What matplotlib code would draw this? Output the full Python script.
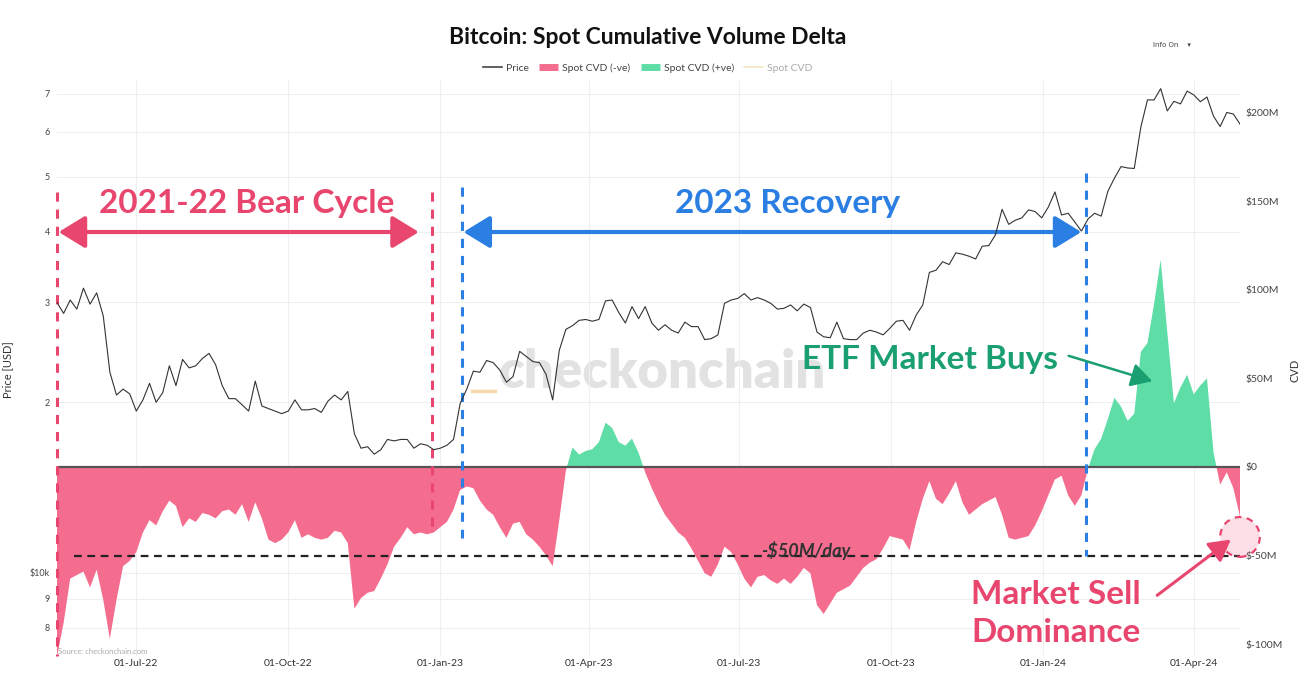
import matplotlib
matplotlib.use('Agg')
import matplotlib.pyplot as plt
import matplotlib.dates as mdates
import matplotlib.ticker as mticker
from matplotlib.lines import Line2D
from matplotlib.patches import Ellipse, FancyArrowPatch
import numpy as np
import pandas as pd

W, H = 1309, 682

# ---- data (one value every 4 days) ----
start_date = '2022-05-14'
step = '4D'

# BTC price, thousands of USD
price_k = [30.0, 28.7, 30.3, 29.2, 31.8, 29.8, 31.2, 28.4, 22.6, 20.6,
           21.1, 20.7, 19.3, 20.2, 21.6, 20.0, 20.8, 23.2, 21.4, 23.8,
           23.0, 23.2, 23.9, 24.4, 23.3, 21.4, 20.3, 20.3, 19.8, 19.3,
           21.8, 19.7, 19.5, 19.3, 19.1, 19.3, 20.2, 19.4, 19.4, 19.5,
           19.2, 20.1, 20.6, 20.2, 20.9, 17.6, 16.6, 16.7, 16.2, 16.5,
           17.2, 17.1, 17.2, 17.2, 16.6, 16.9, 16.8, 16.5, 16.6, 16.8,
           17.2, 19.9, 21.1, 22.7, 22.6, 23.7, 23.5, 22.8, 21.7, 22.2,
           24.6, 24.1, 23.6, 23.5, 22.4, 20.2, 24.7, 26.9, 27.3, 27.9,
           28.0, 27.8, 28.0, 30.2, 30.3, 28.8, 27.6, 29.5, 28.1, 29.5,
           27.6, 26.8, 27.4, 26.8, 26.5, 27.7, 27.2, 27.2, 25.8, 25.9,
           26.3, 29.9, 30.3, 30.5, 31.1, 30.3, 30.6, 30.3, 29.9, 29.2,
           29.3, 29.7, 29.0, 29.8, 29.4, 26.6, 26.1, 26.0, 27.7, 25.9,
           25.8, 25.8, 26.5, 26.8, 26.6, 26.3, 27.0, 27.8, 27.9, 26.8,
           28.5, 29.7, 33.9, 34.2, 35.4, 35.0, 36.7, 36.5, 36.2, 35.8,
           37.7, 37.8, 39.5, 43.8, 41.2, 41.9, 42.3, 43.7, 43.4, 42.3,
           44.2, 47.0, 42.8, 43.1, 41.6, 40.1, 42.1, 43.1, 42.6, 47.1,
           49.7, 52.1, 51.8, 51.7, 61.2, 68.3, 68.3, 71.5, 65.3, 67.9,
           67.2, 70.8, 69.7, 67.8, 69.1, 63.9, 61.3, 64.9, 64.5, 61.9]

# spot cumulative volume delta, millions of USD
cvd_m = [-107, -88, -63, -61, -59, -68, -58, -75, -97, -75,
         -56, -53, -48, -37, -30, -33, -25, -19, -22, -34,
         -29, -31, -26, -27, -29, -25, -24, -27, -21, -31,
         -20, -29, -41, -43, -41, -37, -30, -40, -38, -40,
         -41, -40, -36, -37, -43, -80, -74, -71, -70, -63,
         -55, -45, -40, -34, -38, -37, -38, -37, -34, -31,
         -24, -13, -11, -12, -19, -24, -27, -34, -40, -32,
         -31, -38, -41, -45, -50, -56, -30, -2, 11, 7,
         9, 10, 14, 25, 22, 14, 12, 16, 8, -3,
         -12, -20, -27, -32, -37, -40, -46, -53, -60, -62,
         -55, -45, -48, -55, -63, -68, -62, -61, -64, -66,
         -63, -66, -62, -57, -60, -78, -83, -77, -71, -69,
         -67, -62, -57, -54, -52, -46, -39, -40, -41, -47,
         -31, -18, -8, -18, -21, -15, -8, -20, -27, -24,
         -21, -19, -17, -27, -40, -41, -40, -39, -33, -25,
         -16, -7, -5, -16, -22, -16, -1, 10, 16, 27,
         39, 34, 26, 30, 65, 70, 92, 117, 76, 36,
         45, 52, 41, 46, 50, 8, -10, -3, -12, -28]

date_ticks = ['2022-07-01', '2022-10-01', '2023-01-01', '2023-04-01',
              '2023-07-01', '2023-10-01', '2024-01-01', '2024-04-01']
price_ticks = [8000, 9000, 10000, 20000, 30000, 40000, 50000, 60000, 70000]
price_tick_labels = ['8', '9', '$10k', '2', '3', '4', '5', '6', '7']
cvd_ticks = [-100, -50, 0, 50, 100, 150, 200]
cvd_tick_labels = ['$-100M', '$-50M', '$0', '$50M', '$100M', '$150M', '$200M']

dates = pd.date_range(start_date, periods=len(price_k), freq=step)
price = np.array(price_k) * 1000
cvd = np.array(cvd_m, dtype=float)

PINK = '#f46c8e'
PINK_TXT = '#e8456f'
GREEN = '#5fdda7'
GREEN_TXT = '#1a9f70'
BLUE = '#2b7fe3'

plt.rcParams['font.family'] = ['Lato', 'DejaVu Sans']

fig = plt.figure(figsize=(W / 100, H / 100), dpi=100)
fig.patch.set_facecolor('white')


def fx(x):
    return x / W


def fy(y):
    return 1 - y / H


rect = [fx(57), fy(656), (1240 - 57) / W, (656 - 80) / H]
PRICE_LIM = (7138, 74050)
CVD_LIM = (-106.7, 218.4)
date_tick_nums = mdates.date2num(pd.to_datetime(date_ticks))

# background axes, only for the faint grid
axg = fig.add_axes(rect, zorder=0)
axg.patch.set_visible(False)
axg.set_yscale('log')
axg.set_ylim(*PRICE_LIM)
axg.set_xlim(dates[0], dates[-1])
axg.yaxis.set_major_locator(mticker.FixedLocator(price_ticks))
axg.yaxis.set_minor_locator(mticker.NullLocator())
axg.xaxis.set_major_locator(mticker.FixedLocator(date_tick_nums))
axg.grid(True, color='#efefef', lw=0.8)
axg.tick_params(length=0, labelleft=False, labelbottom=False)
for s in axg.spines.values():
    s.set_visible(False)

# CVD axis (right)
ax2 = fig.add_axes(rect, zorder=1)
ax2.patch.set_visible(False)
ax2.fill_between(dates, cvd, 0, where=cvd <= 0, interpolate=True,
                 color=PINK, lw=0, zorder=2)
ax2.fill_between(dates, cvd, 0, where=cvd >= 0, interpolate=True,
                 color=GREEN, lw=0, zorder=2)
ax2.axhline(0, color='#555555', lw=1.6, zorder=3)
ax2.set_ylim(*CVD_LIM)
ax2.set_xlim(dates[0], dates[-1])
ax2.yaxis.tick_right()
ax2.yaxis.set_major_locator(mticker.FixedLocator(cvd_ticks))
ax2.yaxis.set_major_formatter(mticker.FixedFormatter(cvd_tick_labels))
ax2.tick_params(axis='y', length=0, pad=4, labelsize=7.5, labelcolor='#444444')
ax2.tick_params(axis='x', length=0, labelbottom=False)

# price axis (left), line on top
ax = fig.add_axes(rect, zorder=2)
ax.patch.set_visible(False)
ax.plot(dates, price, color='#333333', lw=0.8, zorder=4)
ax.set_yscale('log')
ax.set_ylim(*PRICE_LIM)
ax.set_xlim(dates[0], dates[-1])
ax.yaxis.set_major_locator(mticker.FixedLocator(price_ticks))
ax.yaxis.set_major_formatter(mticker.FixedFormatter(price_tick_labels))
ax.yaxis.set_minor_locator(mticker.NullLocator())
ax.xaxis.set_major_locator(mticker.FixedLocator(date_tick_nums))
ax.xaxis.set_major_formatter(mdates.DateFormatter('%d-%b-%y'))
ax.tick_params(axis='y', length=0, pad=5, labelsize=6.5, labelcolor='#444444')
ax.tick_params(axis='x', length=0, pad=2, labelsize=7.5, labelcolor='#333333')

for a in (ax, ax2):
    for s in a.spines.values():
        s.set_visible(False)

fig.text(fx(8), fy(370), 'Price [USD]', rotation=90, ha='center', va='center',
         fontsize=8, color='#333333')
fig.text(fx(1295), fy(370), 'CVD', rotation=90, ha='center', va='center',
         fontsize=8, color='#333333')

# title / legend / misc
fig.text(fx(648), fy(37), 'Bitcoin: Spot Cumulative Volume Delta', ha='center',
         va='center', fontsize=16.5, fontweight='bold', color='#111111')
handles = [Line2D([], [], color='#444444', lw=1.2),
           Line2D([], [], color=PINK, lw=5, solid_capstyle='butt'),
           Line2D([], [], color=GREEN, lw=5, solid_capstyle='butt'),
           Line2D([], [], color='#f4e7c0', lw=1.2)]
leg = fig.legend(handles, ['Price', 'Spot CVD (-ve)', 'Spot CVD (+ve)', 'Spot CVD'],
                 loc='center', bbox_to_anchor=(fx(648), fy(68)), ncol=4,
                 frameon=False, fontsize=7.5, handlelength=1.8,
                 handletextpad=0.4, columnspacing=1.0)
for t, c in zip(leg.get_texts(), ['#444444', '#444444', '#444444', '#aaaaaa']):
    t.set_color(c)
fig.text(fx(1172), fy(45), 'Info On    \u25be', ha='center', va='center',
         fontsize=5, color='#444444', family=['DejaVu Sans'])
fig.text(fx(58), fy(651), 'Source: checkonchain.com', ha='left', va='center',
         fontsize=5.5, color='#aaaaaa')

# watermark (behind the data)
fig.text(fx(662), fy(372), 'checkonchain', ha='center', va='center',
         fontsize=38, fontweight='heavy', color='#e2e2e2', zorder=-1)
fig.add_artist(Line2D([fx(472), fx(495)], [fy(391), fy(391)], color='#f7d9ae',
                      lw=2.5, zorder=-1))

# -- annotations on the CVD axis --
d = pd.to_datetime
ax2.plot([d('2022-05-24'), dates[-1]], [-50, -50], color='#222222', lw=1.6,
         ls=(0, (3.5, 2.5)), zorder=5, clip_on=False)
vlines = [('2022-05-14', 155, -106.7, PINK_TXT),
          ('2022-12-27', 155, -38, PINK_TXT),
          ('2023-01-14', 158, -40, BLUE),
          ('2024-01-27', 166, -50, BLUE)]
for day, top, bot, col in vlines:
    ax2.plot([d(day), d(day)], [top, bot], color=col, lw=2.2, ls=(0, (3, 2.6)),
             zorder=6, clip_on=False)

arrows = [('2022-05-15', '2022-12-19', PINK_TXT),
          ('2023-01-15', '2024-01-24', BLUE)]
for a0, a1, col in arrows:
    ax2.add_patch(FancyArrowPatch((mdates.date2num(d(a0)), 132.6),
                                  (mdates.date2num(d(a1)), 132.6),
                                  arrowstyle='<|-|>,head_length=0.9,head_width=0.55',
                                  mutation_scale=18, color=col, lw=3,
                                  shrinkA=0, shrinkB=0, zorder=6, clip_on=False))

ax2.add_patch(Ellipse((mdates.date2num(dates[-1]), -39.5), 24, 22.5,
                      facecolor=PINK, alpha=0.22, edgecolor='none', zorder=6,
                      clip_on=False))
ax2.add_patch(Ellipse((mdates.date2num(dates[-1]), -39.5), 24, 22.5,
                      facecolor='none', edgecolor=PINK_TXT, lw=1.6,
                      ls=(0, (3, 2.5)), zorder=6, clip_on=False))

big = dict(fontsize=24, fontweight='bold', zorder=10)
fig.text(fx(247), fy(204), '2021-22 Bear Cycle', ha='center', va='center',
         color=PINK_TXT, **big)
fig.text(fx(788), fy(204), '2023 Recovery', ha='center', va='center',
         color=BLUE, **big)
fig.text(fx(930), fy(360), 'ETF Market Buys', ha='center', va='center',
         color=GREEN_TXT, **big)
fig.text(fx(971), fy(595), 'Market Sell', ha='left', va='center',
         color=PINK_TXT, **big)
fig.text(fx(971), fy(632), 'Dominance', ha='left', va='center',
         color=PINK_TXT, **big)
fig.text(fx(806), fy(550), '-$50M/day', ha='center', va='center',
         fontsize=13, fontweight='bold', style='italic', color='#333333',
         zorder=10)

fig.add_artist(FancyArrowPatch((fx(1066), fy(355)), (fx(1155), fy(382)),
                               transform=fig.transFigure,
                               arrowstyle='-|>,head_length=0.8,head_width=0.45',
                               mutation_scale=16, color=GREEN_TXT, lw=1.8,
                               zorder=10))
fig.add_artist(FancyArrowPatch((fx(1155), fy(597)), (fx(1233), fy(538)),
                               transform=fig.transFigure,
                               arrowstyle='-|>,head_length=0.8,head_width=0.45',
                               mutation_scale=16, color=PINK_TXT, lw=2.2,
                               zorder=10))

fig.savefig('out.png', dpi=100, facecolor='white')
